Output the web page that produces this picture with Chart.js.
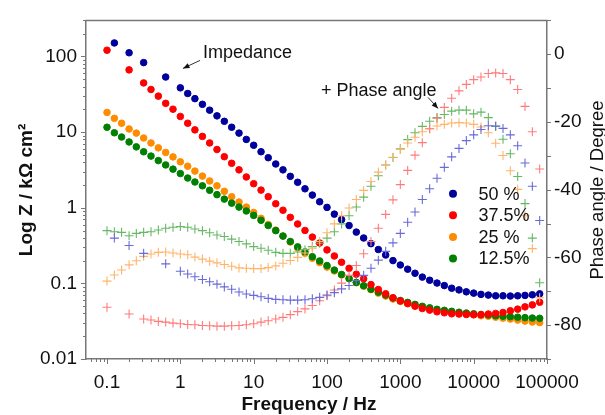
<!DOCTYPE html>
<html>
<head>
<meta charset="utf-8">
<script src="https://cdn.jsdelivr.net/npm/chart.js@4.4.1/dist/chart.umd.min.js"></script>
<style>
  html, body { margin: 0; padding: 0; background: #fff; }
  #wrap { width: 605px; height: 415px; }
</style>
</head>
<body>
<div id="wrap"><canvas id="chart" width="605" height="415"></canvas></div>
<script>
// frequency points (Hz), 10 per decade
const freq = [
  0.1, 0.126, 0.158, 0.2, 0.251, 0.316, 0.398, 0.501, 0.631, 0.794,
  1, 1.26, 1.58, 2, 2.51, 3.16, 3.98, 5.01, 6.31, 7.94,
  10, 12.6, 15.8, 20, 25.1, 31.6, 39.8, 50.1, 63.1, 79.4,
  100, 126, 158, 200, 251, 316, 398, 501, 631, 794,
  1000, 1259, 1585, 1995, 2512, 3162, 3981, 5012, 6310, 7943,
  10000, 12589, 15849, 19953, 25119, 31623, 39811, 50119, 63096, 79433
];

// |Z| in kOhm cm2
const z50 = [
  null, 151, null, 112, null, 83, null, null, 53.5, null,
  38.5, 32.4, 27.7, 23.3, 19.5, 16.4, 13.9, 11.6, 9.7, 8.0,
  6.7, 5.5, 4.59, 3.79, 3.17, 2.60, 2.17, 1.78, 1.47, 1.20,
  1.01, 0.823, 0.696, 0.582, 0.476, 0.398, 0.335, 0.280, 0.237, 0.200,
  0.175, 0.154, 0.136, 0.121, 0.110, 0.101, 0.0935, 0.0863, 0.082, 0.0773,
  0.0743, 0.0715, 0.070, 0.0685, 0.0685, 0.068, 0.0685, 0.0693, 0.0706, 0.0728
];
const z375 = [
  121, null, null, 66.5, null, 44.7, 36.6, 29.9, 24.0, 20.1,
  16.1, 13.1, 10.7, 8.77, 7.19, 5.89, 4.73, 3.87, 3.17, 2.55,
  2.08, 1.71, 1.40, 1.13, 0.927, 0.746, 0.610, 0.501, 0.409, 0.342,
  0.277, 0.230, 0.190, 0.158, 0.132, 0.115, 0.0964, 0.0830, 0.0728, 0.0646,
  0.0585, 0.0540, 0.0499, 0.0465, 0.0443, 0.0421, 0.0408, 0.0396, 0.0393, 0.0388,
  0.0385, 0.0385, 0.0393, 0.0400, 0.0412, 0.0434, 0.0456, 0.0489, 0.0519, 0.0562
];
const z25 = [
  18.2, 15.2, 13.1, 11.0, 9.71, 8.36, 7.19, 6.19, 5.38, 4.70,
  4.05, 3.54, 3.05, 2.62, 2.26, 1.95, 1.65, 1.40, 1.19, 1.02,
  0.867, 0.724, 0.600, 0.506, 0.422, 0.352, 0.294, 0.250, 0.215, 0.188,
  0.164, 0.146, 0.129, 0.115, 0.102, 0.0917, 0.0826, 0.0743, 0.0679, 0.0621,
  0.0577, 0.0543, 0.0512, 0.0482, 0.0461, 0.0440, 0.0427, 0.0415, 0.0403, 0.0391,
  0.0385, 0.0373, 0.0368, 0.0357, 0.0347, 0.0337, 0.0327, 0.0317, 0.0308, 0.0303
];
const z125 = [
  11.6, 9.80, 8.61, 7.41, 6.38, 5.50, 4.82, 4.20, 3.68, 3.24,
  2.83, 2.47, 2.19, 1.95, 1.70, 1.49, 1.30, 1.15, 1.02, 0.906,
  0.792, 0.682, 0.582, 0.498, 0.422, 0.358, 0.304, 0.261, 0.225, 0.198,
  0.172, 0.150, 0.131, 0.116, 0.103, 0.0931, 0.0838, 0.0766, 0.0700, 0.0640,
  0.0594, 0.0560, 0.0527, 0.0497, 0.0475, 0.0454, 0.0440, 0.0427, 0.0415, 0.0405,
  0.0396, 0.0388, 0.0381, 0.0373, 0.0368, 0.0362, 0.0357, 0.0352, 0.0348, 0.0345
];

// phase angle in degrees
const ph50 = [
  null, -54.3, null, -56.5, null, -58.8, null, null, -61.9, null,
  -64.1, -64.9, -65.7, -66.5, -67.2, -67.9, -68.7, -69.4, -70.2, -70.8,
  -71.2, -71.6, -72.1, -72.4, -72.5, -72.6, -72.6, -72.5, -72.2, -71.8,
  -71.1, -70.4, -69.3, -68.3, -66.8, -65.3, -63.2, -60.8, -58.2, -55.7,
  -52.9, -49.6, -46.6, -42.9, -39.7, -36.6, -33.4, -30.3, -27.8, -25.5,
  -23.8, -22.2, -21.1, -21.2, -21.9, -23.8, -27.0, -32.1, -39.0, -49.1
];
const ph375 = [
  -74.7, null, null, -76.7, null, -78.2, -78.5, -78.9, -79.1, -79.4,
  -79.6, -79.8, -79.9, -80.1, -80.2, -80.3, -80.3, -80.2, -80.1, -79.9,
  -79.6, -79.1, -78.7, -78.2, -77.7, -76.9, -76.0, -75.2, -74.2, -72.8,
  -71.3, -69.6, -67.6, -65.3, -62.4, -58.9, -55.3, -51.4, -47.3, -43.0,
  -38.5, -34.3, -29.8, -26.1, -22.0, -18.9, -15.7, -13.0, -10.8, -8.9,
  -7.5, -6.7, -5.7, -5.5, -5.7, -7.5, -10.4, -15.4, -22.9, -33.9
];
const ph25 = [
  -67.0, -65.2, -63.7, -62.2, -61.0, -59.7, -59.0, -58.5, -58.4, -58.7,
  -59.0, -59.2, -59.9, -60.5, -61.1, -61.6, -62.1, -62.6, -63.1, -63.2,
  -63.3, -63.3, -63.0, -62.5, -61.7, -60.9, -60.0, -58.7, -57.3, -55.3,
  -52.7, -50.1, -47.7, -45.4, -42.9, -40.2, -37.6, -34.8, -32.7, -30.4,
  -28.1, -26.2, -24.5, -22.9, -22.0, -21.2, -20.7, -20.3, -20.2, -20.3,
  -20.7, -21.5, -23.2, -26.3, -29.9, -34.4, -39.9, -47.7, -57.4, -71.9
];
const ph125 = [
  -52.1, -52.4, -52.6, -53.6, -52.9, -52.6, -52.4, -51.9, -51.4, -51.1,
  -50.9, -51.1, -51.6, -52.1, -52.7, -53.4, -53.8, -54.6, -55.3, -56.0,
  -56.8, -57.3, -57.9, -58.5, -58.8, -58.8, -58.4, -57.7, -56.8, -55.8,
  -54.3, -52.4, -50.1, -47.7, -45.1, -42.2, -39.0, -35.9, -32.7, -30.5,
  -27.9, -25.2, -23.2, -21.3, -19.8, -18.7, -17.8, -16.8, -16.5, -16.5,
  -17.6, -17.1, -18.7, -21.3, -25.1, -29.4, -36.1, -44.1, -54.3, -67.5
];

const xTicks = [0.1, 1, 10, 100, 1000, 10000, 100000];
const zTicks = [0.01, 0.1, 1, 10, 100];
const phaseTicks = [-80, -60, -40, -20, 0];
const seriesNames = ['50 %', '37.5%', '25 %', '12.5%'];

const dotColors = ['#00009c', '#ff0000', '#ff8c00', '#008000'];
const crossColors = ['#6a6ad8', '#ff7b7b', '#ffb46a', '#66b866'];
const FONT = '"Liberation Sans", Arial, sans-serif';

function pts(ys) {
  return freq.map((f, i) => ({ x: f, y: ys[i] })).filter(p => p.y !== null);
}

function dotSet(label, ys, i, order) {
  return {
    label: label, data: pts(ys), yAxisID: 'y', order: order,
    pointStyle: 'circle', pointRadius: 3.3, pointBorderWidth: 1,
    backgroundColor: dotColors[i], borderColor: dotColors[i], showLine: false
  };
}
function crossSet(label, ys, i, order) {
  return {
    label: label, data: pts(ys), yAxisID: 'y2', order: order,
    pointStyle: 'cross', pointRadius: 4.5, pointBorderWidth: 1.1,
    backgroundColor: crossColors[i], borderColor: crossColors[i], showLine: false
  };
}

// ticks, frame, titles, notes and legend
const decor = {
  id: 'decor',
  afterDraw(chart) {
    const { ctx, chartArea: a, scales } = chart;
    ctx.save();
    ctx.strokeStyle = '#777';
    ctx.lineWidth = 1.5;
    ctx.beginPath();
    ctx.moveTo(a.left - 0.75, a.top);
    ctx.lineTo(a.right + 0.75, a.top);
    ctx.stroke();

    ctx.lineWidth = 1;
    ctx.beginPath();
    for (let e = -3; e <= 5; e++) {
      for (let m = 1; m < 10; m++) {
        const v = m * Math.pow(10, e);
        const len = m === 1 ? 5 : 3;
        if (v >= scales.x.min && v <= scales.x.max * 1.0001) {
          const px = Math.round(scales.x.getPixelForValue(v)) + 0.5;
          ctx.moveTo(px, a.bottom);
          ctx.lineTo(px, a.bottom + len);
        }
        if (v >= scales.y.min * 0.9999 && v <= scales.y.max) {
          const py = Math.round(scales.y.getPixelForValue(v)) + 0.5;
          ctx.moveTo(a.left, py);
          ctx.lineTo(a.left - len, py);
        }
      }
    }
    for (let v = -90; v <= 10; v += 10) {
      const py = Math.round(scales.y2.getPixelForValue(v)) + 0.5;
      ctx.moveTo(a.right, py);
      ctx.lineTo(a.right + 4, py);
    }
    ctx.stroke();

    // axis titles
    ctx.fillStyle = '#111';
    ctx.font = 'bold 19px ' + FONT;
    ctx.textAlign = 'center';
    ctx.textBaseline = 'alphabetic';
    ctx.fillText('Frequency / Hz', 309, 410);
    ctx.save();
    ctx.translate(32, 190);
    ctx.rotate(-Math.PI / 2);
    ctx.fillText('Log Z / k\u03A9 cm\u00B2', 0, 0);
    ctx.restore();
    ctx.font = '18.5px ' + FONT;
    ctx.save();
    ctx.translate(603, 190);
    ctx.rotate(-Math.PI / 2);
    ctx.fillText('Phase angle / Degree', 0, 0);
    ctx.restore();

    // notes with arrows
    ctx.textAlign = 'left';
    ctx.font = '18px ' + FONT;
    ctx.fillText('Impedance', a.left + 117, a.top + 37.5);
    ctx.fillText('+ Phase angle', a.left + 235, a.top + 75.5);
    const arrow = (x1, y1, x2, y2) => {
      const ang = Math.atan2(y2 - y1, x2 - x1);
      ctx.strokeStyle = '#333';
      ctx.lineWidth = 1;
      ctx.beginPath();
      ctx.moveTo(x1, y1);
      ctx.lineTo(x2, y2);
      ctx.stroke();
      ctx.fillStyle = '#111';
      ctx.beginPath();
      ctx.moveTo(x2, y2);
      ctx.lineTo(x2 - 7 * Math.cos(ang - 0.4), y2 - 7 * Math.sin(ang - 0.4));
      ctx.lineTo(x2 - 7 * Math.cos(ang + 0.4), y2 - 7 * Math.sin(ang + 0.4));
      ctx.closePath();
      ctx.fill();
    };
    arrow(a.left + 114, a.top + 40, a.left + 97, a.top + 48);
    arrow(a.left + 342, a.top + 77, a.left + 352, a.top + 88);

    // legend
    ctx.textBaseline = 'middle';
    seriesNames.forEach((name, i) => {
      const y = a.top + 173.3 + i * 21.6;
      ctx.fillStyle = dotColors[i];
      ctx.beginPath();
      ctx.arc(a.left + 367, y, 4, 0, Math.PI * 2);
      ctx.fill();
      ctx.fillStyle = '#111';
      ctx.fillText(name, a.left + 392.5, y + 1);
    });
    ctx.restore();
  }
};

const ctx = document.querySelector('#chart').getContext('2d');

const chart = new Chart(ctx, {
  type: 'scatter',
  data: {
    datasets: [
      crossSet('50 % phase', ph50, 0, 1),
      crossSet('37.5% phase', ph375, 1, 2),
      crossSet('25 % phase', ph25, 2, 3),
      crossSet('12.5% phase', ph125, 3, 4),
      dotSet('50 %', z50, 0, 5),
      dotSet('37.5%', z375, 1, 6),
      dotSet('12.5%', z125, 3, 7),
      dotSet('25 %', z25, 2, 8)
    ]
  },
  options: {
    responsive: false,
    animation: false,
    devicePixelRatio: 1,
    layout: { padding: { top: 16, left: 0, right: 0, bottom: 0 } },
    plugins: {
      legend: { display: false },
      tooltip: { enabled: false },
      title: { display: false }
    },
    scales: {
      x: {
        type: 'logarithmic',
        position: 'bottom',
        min: 0.0517,
        max: 100000,
        grid: { display: false, drawTicks: false },
        border: { display: true, color: '#777', width: 1.5 },
        afterBuildTicks: s => { s.ticks = xTicks.map(v => ({ value: v })); },
        afterFit: s => { s.height = 56; },
        ticks: {
          autoSkip: false, maxRotation: 0, padding: 12,
          color: '#111', font: { family: FONT, size: 19 },
          callback: v => String(v)
        }
      },
      y: {
        type: 'logarithmic',
        position: 'left',
        min: 0.01,
        max: 300,
        grid: { display: false, drawTicks: false },
        border: { display: true, color: '#777', width: 1.5 },
        afterBuildTicks: s => { s.ticks = zTicks.map(v => ({ value: v })); },
        afterFit: s => { s.width = 86; },
        ticks: {
          autoSkip: false, padding: 9,
          color: '#111', font: { family: FONT, size: 19 },
          callback: v => String(v)
        }
      },
      y2: {
        type: 'linear',
        position: 'right',
        min: -90,
        max: 10,
        grid: { display: false, drawTicks: false },
        border: { display: true, color: '#777', width: 1.5 },
        afterBuildTicks: s => { s.ticks = phaseTicks.map(v => ({ value: v })); },
        afterFit: s => { s.width = 58; },
        ticks: {
          autoSkip: false, padding: 7,
          color: '#111', font: { family: FONT, size: 19 },
          callback: v => String(v)
        }
      }
    }
  },
  plugins: [decor]
});
</script>
</body>
</html>
